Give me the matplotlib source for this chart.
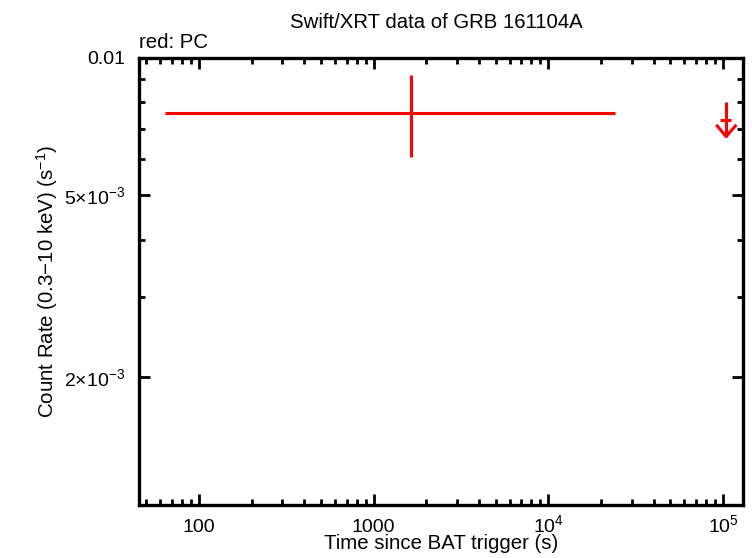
import matplotlib
matplotlib.use("Agg")
import matplotlib.pyplot as plt
import numpy as np
from matplotlib.ticker import FixedLocator, NullFormatter, LogLocator

plt.rcParams['font.family'] = ['Liberation Sans', 'DejaVu Sans']
plt.rcParams['mathtext.fontset'] = 'custom'
plt.rcParams['mathtext.rm'] = 'Liberation Sans'
plt.rcParams['mathtext.it'] = 'Liberation Sans:italic'

# PC detection
pc_t = [1635.0]
pc_tlo = [63.8]
pc_thi = [24000.0]
pc_rate = [7.59e-3]
pc_rlo = [6.08e-3]
pc_rhi = [9.2e-3]

# PC upper limit
ul_t = [1.04e5]
ul_tlo = [9.6e4]
ul_thi = [1.11e5]
ul_rate = [7.32e-3]
ul_top = [8.0e-3]
ul_tip = [6.73e-3]

xlim = (45.4, 1.30e5)
ylim = (1.05e-3, 0.01)
ytick_vals = [0.01, 5e-3, 2e-3]
ytick_labels = ['0.01', '5\u00d710$^{-3}$', '2\u00d710$^{-3}$']
xtick_vals = [100, 1000, 1e4, 1e5]
xtick_labels = ['100', '1000', '10$^{4}$', '10$^{5}$']

W, H = 752, 558
fig = plt.figure(figsize=(7.52, 5.58), dpi=100)
ax = fig.add_axes([139/W, 1-505/H, (743-139)/W, (505-58)/H])
ax.set_xscale('log')
ax.set_yscale('log')
ax.set_xlim(*xlim)
ax.set_ylim(*ylim)

red = '#ff0000'
lw = 2.2
for t, tl, th, r, rl, rh in zip(pc_t, pc_tlo, pc_thi, pc_rate, pc_rlo, pc_rhi):
    ax.plot([tl, th], [r, r], color=red, lw=lw, solid_capstyle='butt')
    ax.plot([t, t], [rl, rh], color=red, lw=lw, solid_capstyle='butt')

for t, tl, th, r, top, tip in zip(ul_t, ul_tlo, ul_thi, ul_rate, ul_top, ul_tip):
    ax.plot([tl, th], [r, r], color=red, lw=lw, solid_capstyle='butt')
    ax.plot([t, t], [top, tip], color=red, lw=lw, solid_capstyle='butt')
    # arrow head
    ax.plot([t*0.89, t, t*1.13], [tip*1.055, tip, tip*1.055], color=red, lw=lw)

ax.xaxis.set_major_locator(FixedLocator(xtick_vals))
ax.set_xticklabels(xtick_labels)
ax.xaxis.set_minor_locator(LogLocator(base=10, subs=np.arange(2, 10)))
ax.xaxis.set_minor_formatter(NullFormatter())

ax.yaxis.set_major_locator(FixedLocator(ytick_vals))
ax.set_yticklabels(ytick_labels)
yminor = [m * 10.0**e for e in (-3, -2) for m in range(1, 10)]
yminor = [v for v in yminor if ylim[0] <= v <= ylim[1] and v not in ytick_vals]
ax.yaxis.set_minor_locator(FixedLocator(yminor))
ax.yaxis.set_minor_formatter(NullFormatter())

ax.tick_params(which='both', direction='in', top=True, right=True, width=2, labelsize=14, colors='black')
ax.tick_params(which='major', length=8)
ax.tick_params(which='minor', length=4)
ax.tick_params(axis='y', which='major', pad=10)
ax.tick_params(axis='x', which='major', pad=19.2)
for lab in ax.get_xticklabels():
    lab.set_va('baseline')
for s in ax.spines.values():
    s.set_linewidth(2.4)

fig.text(441/W, 1-549/H, 'Time since BAT trigger (s)', ha='center', va='baseline', fontsize=14.7)
fig.text(47/W, 1-281.5/H, r'Count Rate (0.3$-$10 keV) (s$^{-1}$)', ha='center', va='center',
         rotation=90, fontsize=14.7)
fig.text(436/W, 1-27.7/H, 'Swift/XRT data of GRB 161104A', ha='center', va='baseline', fontsize=14.7)
fig.text(139/W, 1-48/H, 'red: PC', ha='left', va='baseline', fontsize=14.7)

fig.savefig('out.png', dpi=100)
